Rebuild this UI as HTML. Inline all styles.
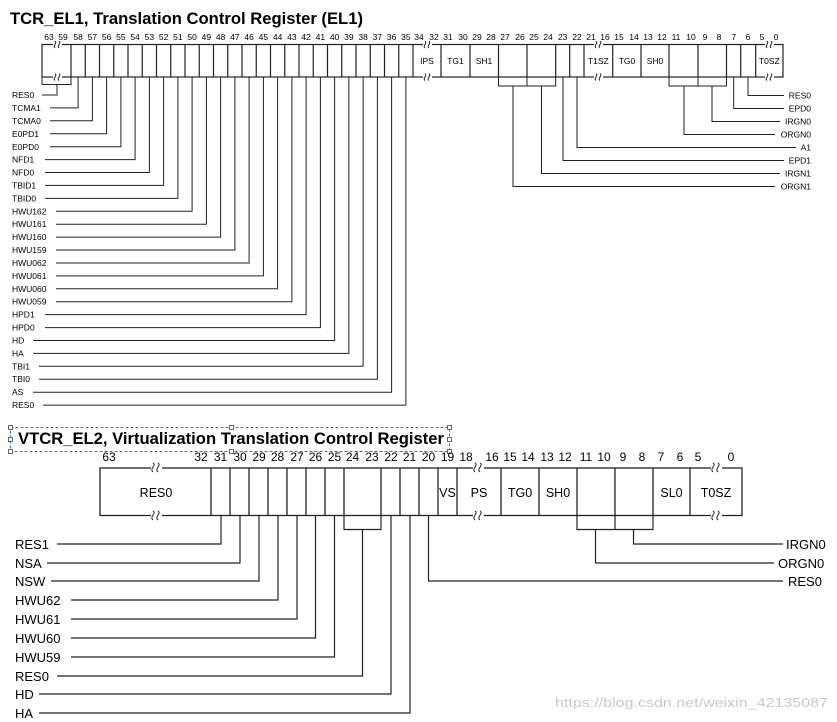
<!DOCTYPE html>
<html><head><meta charset="utf-8"><style>
html,body{margin:0;padding:0;background:#fff;}
svg{display:block;font-family:"Liberation Sans",Arial,sans-serif;}
</style></head><body>
<svg width="837" height="722" viewBox="0 0 837 722" xmlns="http://www.w3.org/2000/svg">
<g fill="#000">
<text x="10" y="24" font-size="16.5" font-weight="bold" textLength="353" lengthAdjust="spacingAndGlyphs">TCR_EL1, Translation Control Register (EL1)</text>
</g>
<!-- TOP REGISTER -->
<g stroke="#222" stroke-width="1.2" fill="none">
<rect x="42" y="44.5" width="741" height="32.5"/>
<path d="M71 44.5V77M85.25 44.5V77M99.5 44.5V77M113.75 44.5V77M128 44.5V77M142.25 44.5V77M156.5 44.5V77M170.75 44.5V77M185 44.5V77M199.25 44.5V77M213.5 44.5V77M227.75 44.5V77M242 44.5V77M256.25 44.5V77M270.5 44.5V77M284.75 44.5V77M299 44.5V77M313.25 44.5V77M327.5 44.5V77M341.75 44.5V77M356 44.5V77M370.25 44.5V77M384.5 44.5V77M398.75 44.5V77M413 44.5V77M441 44.5V77M470 44.5V77M498.5 44.5V77M527 44.5V77M555.7 44.5V77M569.7 44.5V77M584 44.5V77M612.7 44.5V77M641 44.5V77M669 44.5V77M698 44.5V77M726.5 44.5V77M740.7 44.5V77M755.7 44.5V77"/>
</g>
<g>
<rect x="53" y="42" width="9" height="5" fill="#fff"/><rect x="53" y="74.5" width="9" height="5" fill="#fff"/>
<rect x="423" y="42" width="9" height="5" fill="#fff"/><rect x="423" y="74.5" width="9" height="5" fill="#fff"/>
<rect x="594" y="42" width="9" height="5" fill="#fff"/><rect x="594" y="74.5" width="9" height="5" fill="#fff"/>
<rect x="765" y="42" width="9" height="5" fill="#fff"/><rect x="765" y="74.5" width="9" height="5" fill="#fff"/>
</g>
<g stroke="#222" stroke-width="1" fill="none">
<path d="M55 41c3 2-3 5 0 7M59 41c3 2-3 5 0 7M55 73.5c3 2-3 5 0 7M59 73.5c3 2-3 5 0 7"/>
<path d="M425 41c3 2-3 5 0 7M429 41c3 2-3 5 0 7M425 73.5c3 2-3 5 0 7M429 73.5c3 2-3 5 0 7"/>
<path d="M596 41c3 2-3 5 0 7M600 41c3 2-3 5 0 7M596 73.5c3 2-3 5 0 7M600 73.5c3 2-3 5 0 7"/>
<path d="M767 41c3 2-3 5 0 7M771 41c3 2-3 5 0 7M767 73.5c3 2-3 5 0 7M771 73.5c3 2-3 5 0 7"/>
</g>
<g font-size="8.5" text-anchor="middle" fill="#000">
<text x="49" y="40">63</text><text x="63" y="40">59</text>
<text x="78.1" y="40">58</text><text x="92.4" y="40">57</text><text x="106.6" y="40">56</text><text x="120.9" y="40">55</text><text x="135.1" y="40">54</text><text x="149.4" y="40">53</text><text x="163.6" y="40">52</text><text x="177.9" y="40">51</text><text x="192.1" y="40">50</text><text x="206.4" y="40">49</text><text x="220.6" y="40">48</text><text x="234.9" y="40">47</text><text x="249.1" y="40">46</text><text x="263.4" y="40">45</text><text x="277.6" y="40">44</text><text x="291.9" y="40">43</text><text x="306.1" y="40">42</text><text x="320.4" y="40">41</text><text x="334.6" y="40">40</text><text x="348.9" y="40">39</text><text x="363.1" y="40">38</text><text x="377.4" y="40">37</text><text x="391.6" y="40">36</text><text x="405.9" y="40">35</text>
<text x="419" y="40">34</text><text x="434" y="40">32</text><text x="448" y="40">31</text><text x="463" y="40">30</text><text x="477" y="40">29</text><text x="491" y="40">28</text><text x="505" y="40">27</text><text x="520" y="40">26</text><text x="534" y="40">25</text><text x="548" y="40">24</text><text x="562.7" y="40">23</text><text x="577" y="40">22</text><text x="591" y="40">21</text><text x="605" y="40">16</text><text x="619" y="40">15</text><text x="634" y="40">14</text><text x="648" y="40">13</text><text x="662" y="40">12</text><text x="676" y="40">11</text><text x="691" y="40">10</text><text x="705" y="40">9</text><text x="719" y="40">8</text><text x="733.7" y="40">7</text><text x="748" y="40">6</text><text x="762" y="40">5</text><text x="776" y="40">0</text>
</g>
<g font-size="8.5" text-anchor="middle" fill="#000">
<text x="427" y="64">IPS</text><text x="455.5" y="64">TG1</text><text x="484" y="64">SH1</text><text x="598.3" y="64">T1SZ</text><text x="627" y="64">TG0</text><text x="655" y="64">SH0</text><text x="769.3" y="64">T0SZ</text>
</g>
<g stroke="#222" stroke-width="1" fill="none">
<path d="M42 77V84.5H71V77M57 84.5V95H42"/>
<path d="M50 107.9H78.1V77M50 120.8H92.4V77M50 133.8H106.6V77M50 146.7H120.9V77M45 159.6H135.1V77M45 172.5H149.4V77M45 185.4H163.6V77M45 198.4H177.9V77M56 211.3H192.1V77M56 224.2H206.4V77M56 237.1H220.6V77M56 250H234.9V77M56 263H249.1V77M56 275.9H263.4V77M56 288.8H277.6V77M56 301.7H291.9V77M45 314.6H306.1V77M45 327.6H320.4V77M33 340.5H334.6V77M33 353.4H348.9V77M39 366.3H363.1V77M39 379.2H377.4V77M33 392.2H391.6V77M43 405.1H405.9V77"/>
</g>
<g font-size="8.5" fill="#000">
<text x="12" y="98">RES0</text><text x="12" y="111">TCMA1</text><text x="12" y="124">TCMA0</text><text x="12" y="137">E0PD1</text><text x="12" y="150">E0PD0</text><text x="12" y="162.6">NFD1</text><text x="12" y="175.5">NFD0</text><text x="12" y="188.4">TBID1</text><text x="12" y="201.4">TBID0</text><text x="12" y="214.3">HWU162</text><text x="12" y="227.2">HWU161</text><text x="12" y="240.1">HWU160</text><text x="12" y="253">HWU159</text><text x="12" y="266">HWU062</text><text x="12" y="278.9">HWU061</text><text x="12" y="291.8">HWU060</text><text x="12" y="304.7">HWU059</text><text x="12" y="317.6">HPD1</text><text x="12" y="330.6">HPD0</text><text x="12" y="343.5">HD</text><text x="12" y="356.4">HA</text><text x="12" y="369.3">TBI1</text><text x="12" y="382.2">TBI0</text><text x="12" y="395.2">AS</text><text x="12" y="408.1">RES0</text>
</g>
<g stroke="#222" stroke-width="1" fill="none">
<path d="M527 77V86H555.7V77M498.5 77V86H527M669 77V86H698V77M698 86H726.5V77"/>
<path d="M748 77V95.5H784M733.7 77V108.5H784M712 86V121.5H780M684 86V134.5H775M577 77V147.5H796M563 77V160.5H784M541.5 86V173.5H780M513 86V186.5H775"/>
</g>
<g font-size="8.5" text-anchor="end" fill="#000">
<text x="811" y="98.5">RES0</text><text x="811" y="111.5">EPD0</text><text x="811" y="124.5">IRGN0</text><text x="811" y="137.5">ORGN0</text><text x="811" y="150.5">A1</text><text x="811" y="163.5">EPD1</text><text x="811" y="176.5">IRGN1</text><text x="811" y="189.5">ORGN1</text>
</g>

<g stroke="#1a7ad4" stroke-width="1" fill="none" stroke-dasharray="3,2">
<rect x="10.5" y="427.5" width="439" height="24"/>
</g>
<g stroke="#444" stroke-width="0.8" fill="#fff">
<rect x="8.5" y="425.5" width="4" height="4"/><rect x="229.5" y="425.5" width="4" height="4"/><rect x="447.5" y="425.5" width="4" height="4"/>
<rect x="8.5" y="437.5" width="4" height="4"/><rect x="447.5" y="437.5" width="4" height="4"/>
<rect x="8.5" y="449.5" width="4" height="4"/><rect x="229.5" y="449.5" width="4" height="4"/><rect x="447.5" y="449.5" width="4" height="4"/>
</g>
<text x="18" y="444" font-size="16.5" font-weight="bold" textLength="426" lengthAdjust="spacingAndGlyphs" fill="#000">VTCR_EL2, Virtualization Translation Control Register</text>

<g stroke="#222" stroke-width="1.3" fill="none">
<rect x="100" y="468" width="642" height="47.5"/>
<path d="M211 468V515.5M230 468V515.5M249 468V515.5M268 468V515.5M287 468V515.5M306 468V515.5M325 468V515.5M344 468V515.5M381 468V515.5M400 468V515.5M419 468V515.5M438 468V515.5M457 468V515.5M501 468V515.5M539 468V515.5M577 468V515.5M615 468V515.5M653 468V515.5M690 468V515.5"/>
</g>
<g>
<rect x="151" y="465" width="11" height="6" fill="#fff"/><rect x="151" y="512.5" width="11" height="6" fill="#fff"/>
<rect x="473" y="465" width="11" height="6" fill="#fff"/><rect x="473" y="512.5" width="11" height="6" fill="#fff"/>
<rect x="711" y="465" width="11" height="6" fill="#fff"/><rect x="711" y="512.5" width="11" height="6" fill="#fff"/>
</g>
<g stroke="#222" stroke-width="1" fill="none">
<path d="M153 463c4 2-4 6 0 9M158 463c4 2-4 6 0 9M153 511c4 2-4 6 0 9M158 511c4 2-4 6 0 9"/>
<path d="M475 463c4 2-4 6 0 9M480 463c4 2-4 6 0 9M475 511c4 2-4 6 0 9M480 511c4 2-4 6 0 9"/>
<path d="M713 463c4 2-4 6 0 9M718 463c4 2-4 6 0 9M713 511c4 2-4 6 0 9M718 511c4 2-4 6 0 9"/>
</g>
<g font-size="12" text-anchor="middle" fill="#000">
<text x="109" y="461">63</text><text x="201" y="461">32</text><text x="220.5" y="461">31</text><text x="240" y="461">30</text><text x="259" y="461">29</text><text x="277.5" y="461">28</text><text x="297" y="461">27</text><text x="315.5" y="461">26</text><text x="334.5" y="461">25</text><text x="352.5" y="461">24</text><text x="372" y="461">23</text><text x="391" y="461">22</text><text x="409.5" y="461">21</text><text x="428.5" y="461">20</text><text x="447.5" y="461">19</text><text x="466" y="461">18</text><text x="492" y="461">16</text><text x="510" y="461">15</text><text x="528" y="461">14</text><text x="547" y="461">13</text><text x="565" y="461">12</text><text x="586" y="461">11</text><text x="604" y="461">10</text><text x="623" y="461">9</text><text x="642" y="461">8</text><text x="661" y="461">7</text><text x="680" y="461">6</text><text x="698" y="461">5</text><text x="731" y="461">0</text>
</g>
<g font-size="12.5" text-anchor="middle" fill="#000">
<text x="156" y="497">RES0</text><text x="447.5" y="497">VS</text><text x="479" y="497">PS</text><text x="520" y="497">TG0</text><text x="558" y="497">SH0</text><text x="671.5" y="497">SL0</text><text x="716" y="497">T0SZ</text>
</g>
<g stroke="#222" stroke-width="1.2" fill="none">
<path d="M344 515.5V529.5H381V515.5M362.5 529.5V676H57"/>
<path d="M615 515.5V529.5H653V515.5M577 515.5V529.5H615M633.5 529.5V544H783M595.5 529.5V563H774M428.5 515.5V581H783"/>
<path d="M221 515.5V544H57M240 515.5V563H47M259 515.5V581H51M278 515.5V600H71M297 515.5V619H71M315.5 515.5V638H71M334.5 515.5V657H71M391 515.5V694H39M410 515.5V713H39"/>
</g>
<g font-size="13" fill="#000">
<text x="15" y="549">RES1</text><text x="15" y="568">NSA</text><text x="15" y="586">NSW</text><text x="15" y="605">HWU62</text><text x="15" y="624">HWU61</text><text x="15" y="643">HWU60</text><text x="15" y="662">HWU59</text><text x="15" y="681">RES0</text><text x="15" y="699">HD</text><text x="15" y="718">HA</text>
</g>
<g font-size="13" fill="#000">
<text x="786" y="549">IRGN0</text><text x="778" y="568">ORGN0</text><text x="788" y="586">RES0</text>
</g>
<text x="555" y="707" font-size="12.5" fill="#c8c8c8" textLength="273" lengthAdjust="spacingAndGlyphs">https://blog.csdn.net/weixin_42135087</text>
</svg>
</body></html>
